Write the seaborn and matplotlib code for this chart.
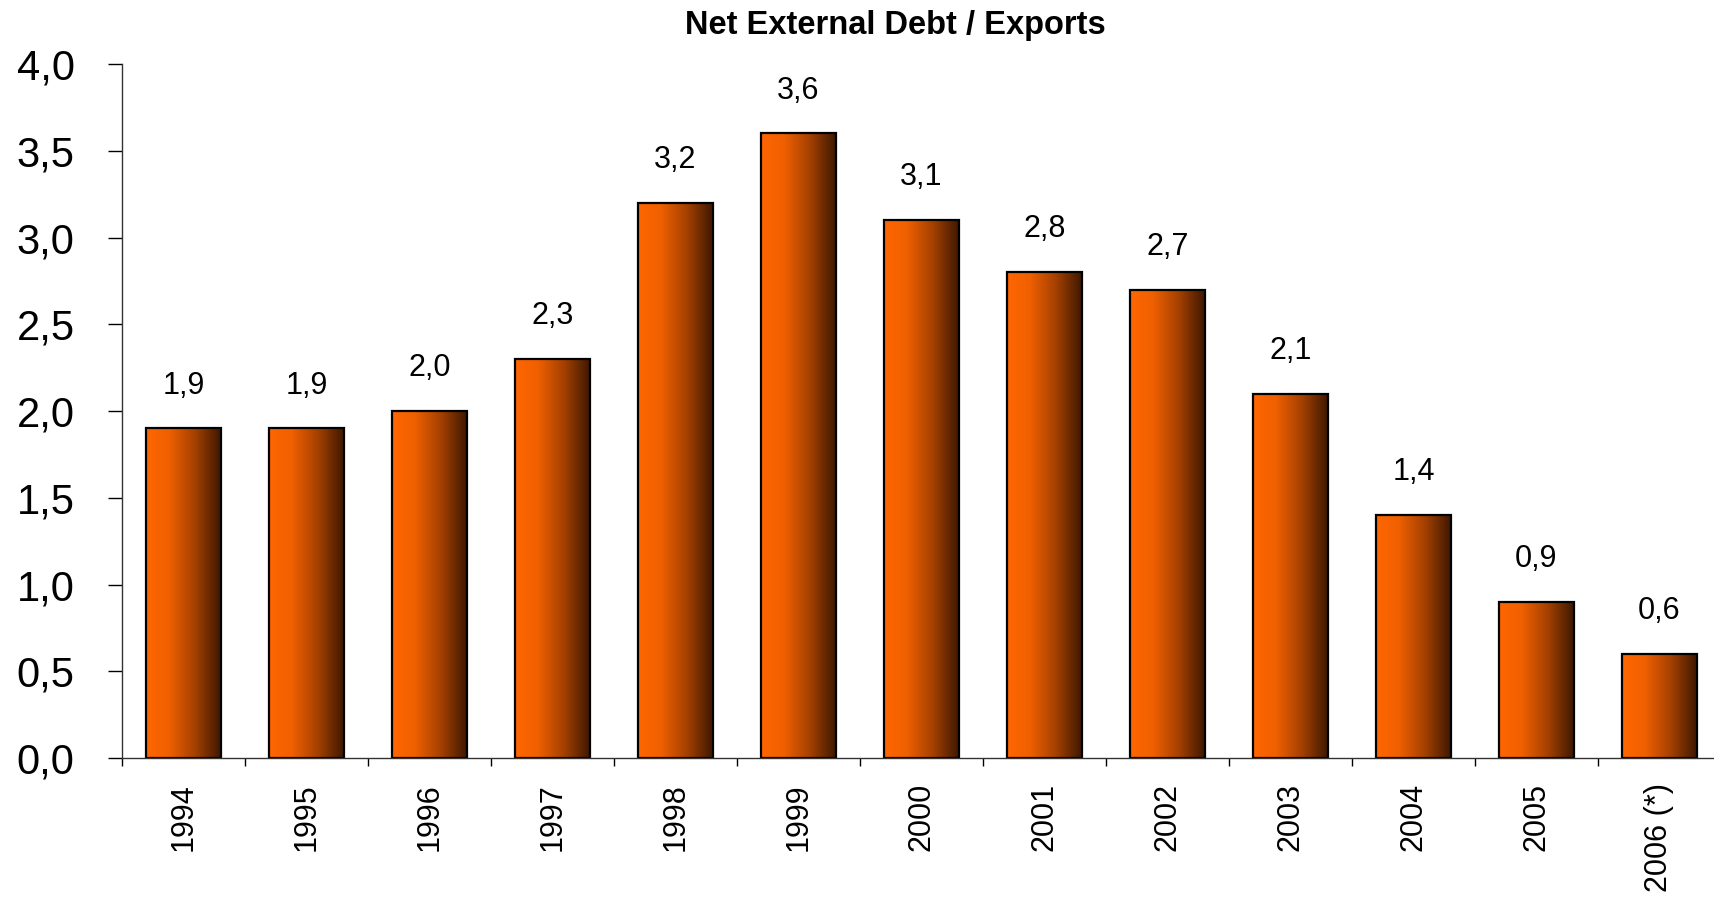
import numpy as np
import pandas as pd
import matplotlib
matplotlib.use("Agg")
import matplotlib.pyplot as plt
from matplotlib.colors import LinearSegmentedColormap
import seaborn as sns

# data
years = ["1994", "1995", "1996", "1997", "1998", "1999", "2000",
         "2001", "2002", "2003", "2004", "2005", "2006 (*)"]
ratio = [1.9, 1.9, 2.0, 2.3, 3.2, 3.6, 3.1, 2.8, 2.7, 2.1, 1.4, 0.9, 0.6]
y_ticks = [0.0, 0.5, 1.0, 1.5, 2.0, 2.5, 3.0, 3.5, 4.0]

df = pd.DataFrame({"Year": years, "Ratio": ratio})

sns.set_style("white")
plt.rcParams['font.family'] = ['Liberation Sans', 'DejaVu Sans']
plt.rcParams['text.color'] = 'black'
plt.rcParams['xtick.color'] = 'black'
plt.rcParams['ytick.color'] = 'black'

fig = plt.figure(figsize=(17.15, 8.99), dpi=100)
ax = fig.add_axes([0.0711, 0.1568, 0.9324, 0.772])

sns.barplot(data=df, x="Year", y="Ratio", ax=ax, width=0.61,
            color="#FF6600", edgecolor="black", linewidth=1.6, saturation=1)

# horizontal orange -> dark brown gradient inside each bar
grad_cmap = LinearSegmentedColormap.from_list(
    "bar_grad", [(0.0, "#FF6600"), (0.3, "#F06000"), (0.65, "#A34000"), (1.0, "#3A1600")])
grad = np.linspace(0, 1, 256).reshape(1, -1)
for patch in ax.patches:
    x0, y0 = patch.get_x(), patch.get_y()
    w, h = patch.get_width(), patch.get_height()
    im = ax.imshow(grad, cmap=grad_cmap, aspect="auto", extent=[x0, x0 + w, y0, y0 + h],
                   zorder=patch.get_zorder() - 0.1, interpolation="bilinear")
    im.set_clip_path(patch)
    patch.set_facecolor("none")

# value labels with decimal comma
for i, v in enumerate(ratio):
    ax.annotate(f"{v:.1f}".replace(".", ","), (i, v), xytext=(0, 20), textcoords="offset points",
                ha="center", va="bottom", fontsize=22)

ax.set_xlim(-0.5, 12.5)
ax.set_ylim(0, 4.0)
ax.set_yticks(y_ticks)
ax.set_yticklabels([f"{t:.1f}".replace(".", ",") for t in y_ticks], fontsize=30)
ax.tick_params(axis="y", direction="out", length=10, width=1, left=True, pad=24)

# x tick marks sit between categories, labels on the categories
ax.set_xticks(range(len(years)))
ax.set_xticklabels(years, rotation=90, fontsize=22)
ax.set_xticks(np.arange(-0.5, len(years), 1.0), minor=True)
ax.tick_params(axis="x", which="major", length=0, pad=18)
ax.tick_params(axis="x", which="minor", direction="out", length=6, width=1, bottom=True)

ax.set_xlabel("")
ax.set_ylabel("")
sns.despine(ax=ax, top=True, right=True)
for s in ["left", "bottom"]:
    ax.spines[s].set_color("#333333")
    ax.spines[s].set_linewidth(1)

fig.text(0.522, 0.972, "Net External Debt / Exports", ha="center", va="center",
         fontsize=23.5, fontweight="bold")

fig.savefig("out.png", dpi=100)
